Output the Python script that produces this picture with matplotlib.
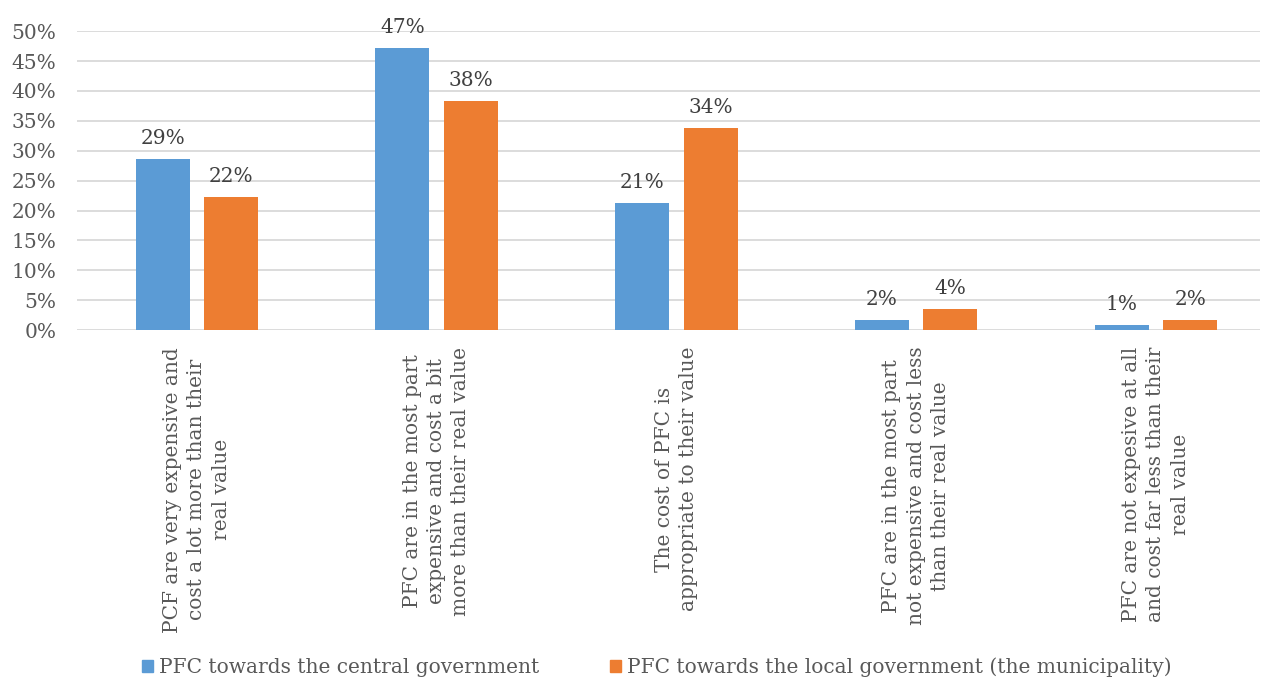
import numpy as np
import matplotlib
matplotlib.use('Agg')
import matplotlib.pyplot as plt
import matplotlib.ticker as mtick
from matplotlib.patches import Patch

plt.rcParams['font.family'] = ['DejaVu Serif']

categories = ['PCF are very expensive and\ncost a lot more than their\nreal value',
              'PFC are in the most part\nexpensive and cost a bit\nmore than their real value',
              'The cost of PFC is\nappropriate to their value',
              'PFC are in the most part\nnot expensive and cost less\nthan their real value',
              'PFC are not expesive at all\nand cost far less than their\nreal value']
central = [28.6, 47.2, 21.3, 1.7, 0.8]
local = [22.2, 38.3, 33.8, 3.5, 1.7]
series_names = ['PFC towards the central government',
                'PFC towards the local government (the municipality)']

blue = '#5b9bd5'
orange = '#ed7d31'

fig = plt.figure(figsize=(12.68, 6.85), dpi=100)
ax = fig.add_axes([0.0607, 0.518, 0.933, 0.4365])

x = np.arange(len(categories))
w = 0.225
off = 0.143
b1 = ax.bar(x - off, central, w, color=blue, zorder=3)
b2 = ax.bar(x + off, local, w, color=orange, zorder=3)

for bars in (b1, b2):
    for r in bars:
        h = r.get_height()
        ax.annotate('%d%%' % round(h), (r.get_x() + r.get_width() / 2, h),
                    xytext=(0, 8), textcoords='offset points',
                    ha='center', va='bottom', fontsize=14.5, color='#404040')

ax.set_xlim(-0.5, 4.434)
ax.set_ylim(0, 50)
ax.set_yticks(np.arange(0, 51, 5))
ax.yaxis.set_major_formatter(mtick.FuncFormatter(lambda v, p: '%d%%' % v))
ax.grid(axis='y', color='#d9d9d9', linewidth=1.3, zorder=0)
for s in ax.spines.values():
    s.set_visible(False)
ax.tick_params(axis='y', length=0, labelsize=14.5, labelcolor='#595959', pad=15)
ax.tick_params(axis='x', length=0, labelsize=14.5, labelcolor='#595959', pad=12)
ax.set_xticks(x)
ax.set_xticklabels(categories, rotation=90, va='top', ha='center',
                   multialignment='center', linespacing=1.35)

handles = [Patch(color=blue), Patch(color=orange)]
fig.legend(handles, series_names, loc='center', bbox_to_anchor=(0.518, 0.026),
           ncol=2, frameon=False, fontsize=14.5, labelcolor='#595959',
           handlelength=0.55, handleheight=0.55, handletextpad=0.3,
           columnspacing=3.5)

fig.savefig('out.png', dpi=100)
